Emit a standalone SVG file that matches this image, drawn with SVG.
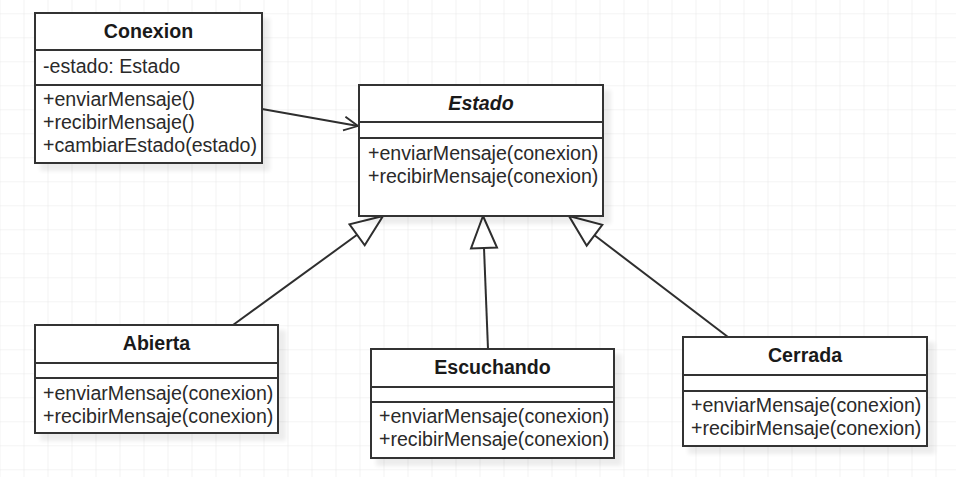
<svg xmlns="http://www.w3.org/2000/svg" width="956" height="477" viewBox="0 0 956 477">
<defs>
<pattern id="grid" x="23.5" y="13.3" width="24" height="24" patternUnits="userSpaceOnUse">
<path d="M0 0H24M0 0V24" fill="none" stroke="#e9e9e9" stroke-width="1.2"/>
</pattern>
<marker id="open" viewBox="0 0 16 16" refX="15" refY="8" markerWidth="16" markerHeight="16" markerUnits="userSpaceOnUse" orient="auto">
<path d="M1 1 L15 8 L1 15" fill="none" stroke="#2e2e2e" stroke-width="1.8"/>
</marker>
<filter id="sh" x="-10%" y="-10%" width="130%" height="130%">
<feGaussianBlur stdDeviation="2"/>
</filter>
</defs>
<style>
.box{fill:#fff;stroke:#333;stroke-width:2}
.shadow{fill:#000;opacity:0.07;filter:url(#sh)}
.div{stroke:#333;stroke-width:2}
.t{font-family:"Liberation Sans",Arial,sans-serif;font-size:19.6px;fill:#1a1a1a;font-weight:bold;text-anchor:middle}
.ti{font-style:italic}
.m{font-family:"Liberation Sans",Arial,sans-serif;font-size:19.6px;fill:#2a2a2a}
.c{stroke:#2e2e2e;stroke-width:2;fill:none}
.tri{fill:#fff;stroke:#2e2e2e;stroke-width:2;stroke-linejoin:miter}
</style>
<rect width="956" height="477" fill="#fff"/>
<rect width="956" height="477" fill="url(#grid)"/>

<g id="connectors">
<line class="c" x1="262" y1="109" x2="358" y2="126" marker-end="url(#open)"/>
<line class="c" x1="233" y1="325" x2="357.1" y2="234.8"/>
<polygon class="tri" points="383,216 349.5,224.3 364.7,245.3"/>
<line class="c" x1="488" y1="349" x2="484" y2="248"/>
<polygon class="tri" points="483,216 471,248.5 497,247.5"/>
<line class="c" x1="728" y1="337" x2="594.5" y2="235.3"/>
<polygon class="tri" points="569,216 602.3,224.9 586.7,245.7"/>
</g>

<g id="Conexion">
<rect class="shadow" x="40" y="18" width="230" height="153"/>
<rect class="box" x="35" y="13" width="227" height="150"/>
<line class="div" x1="35" y1="50" x2="262" y2="50"/>
<line class="div" x1="35" y1="85" x2="262" y2="85"/>
<text class="t" x="148.5" y="38">Conexion</text>
<text class="m" x="43" y="73">-estado: Estado</text>
<text class="m" x="43" y="106">+enviarMensaje()</text>
<text class="m" x="43" y="129">+recibirMensaje()</text>
<text class="m" x="43" y="152">+cambiarEstado(estado)</text>
</g>

<g id="Estado">
<rect class="shadow" x="364" y="90" width="247" height="134"/>
<rect class="box" x="359" y="85" width="244" height="131"/>
<line class="div" x1="359" y1="122" x2="603" y2="122"/>
<line class="div" x1="359" y1="138" x2="603" y2="138"/>
<text class="t ti" x="481" y="110">Estado</text>
<text class="m" x="368" y="160">+enviarMensaje(conexion)</text>
<text class="m" x="368" y="183">+recibirMensaje(conexion)</text>
</g>

<g id="Abierta">
<rect class="shadow" x="40" y="330" width="246" height="111"/>
<rect class="box" x="35" y="325" width="243" height="108"/>
<line class="div" x1="35" y1="363" x2="278" y2="363"/>
<line class="div" x1="35" y1="378" x2="278" y2="378"/>
<text class="t" x="156.5" y="350">Abierta</text>
<text class="m" x="43" y="400">+enviarMensaje(conexion)</text>
<text class="m" x="43" y="423">+recibirMensaje(conexion)</text>
</g>

<g id="Escuchando">
<rect class="shadow" x="376" y="354" width="246" height="112"/>
<rect class="box" x="371" y="349" width="243" height="109"/>
<line class="div" x1="371" y1="387" x2="614" y2="387"/>
<line class="div" x1="371" y1="402" x2="614" y2="402"/>
<text class="t" x="492.5" y="374">Escuchando</text>
<text class="m" x="379" y="423">+enviarMensaje(conexion)</text>
<text class="m" x="379" y="446">+recibirMensaje(conexion)</text>
</g>

<g id="Cerrada">
<rect class="shadow" x="688" y="342" width="247" height="112"/>
<rect class="box" x="683" y="337" width="244" height="109"/>
<line class="div" x1="683" y1="375" x2="927" y2="375"/>
<line class="div" x1="683" y1="391" x2="927" y2="391"/>
<text class="t" x="805" y="362">Cerrada</text>
<text class="m" x="691" y="412">+enviarMensaje(conexion)</text>
<text class="m" x="691" y="435">+recibirMensaje(conexion)</text>
</g>
</svg>
